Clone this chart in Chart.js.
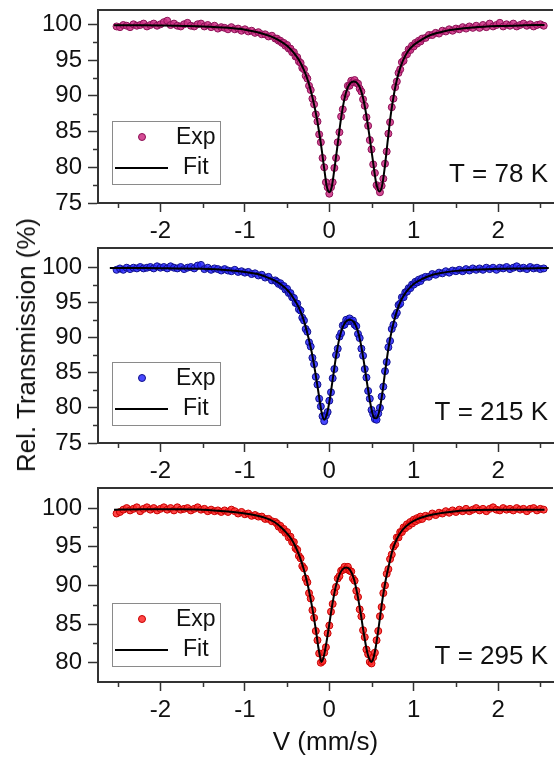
<!DOCTYPE html>
<html><head><meta charset="utf-8">
<script src="https://cdn.jsdelivr.net/npm/chart.js@4.4.1/dist/chart.umd.min.js"></script>
<style>
html,body{margin:0;padding:0;background:#fff;width:558px;height:758px;overflow:hidden}
canvas{position:absolute;left:0}
#ytitle{position:absolute;left:26px;top:345px;transform:translate(-50%,-50%) rotate(-90deg);white-space:nowrap;
  font:26px 'Liberation Sans',Arial,sans-serif;color:#111;line-height:1}
</style></head><body>
<canvas id="c1" width="558" height="240" style="top:0"></canvas>
<canvas id="c2" width="558" height="240" style="top:240px"></canvas>
<canvas id="c3" width="558" height="278" style="top:480px"></canvas>
<div id="ytitle">Rel. Transmission (%)</div>
<script>
// ---- data ----
const velocity = [
-2.52,-2.48,-2.44,-2.40,-2.36,-2.32,-2.28,-2.24,-2.20,-2.16,-2.12,-2.08,-2.04,-2.00,-1.96,-1.92,
-1.88,-1.84,-1.80,-1.76,-1.72,-1.68,-1.64,-1.60,-1.56,-1.52,-1.48,-1.44,-1.40,-1.36,-1.32,-1.28,
-1.24,-1.20,-1.16,-1.12,-1.08,-1.04,-1.00,-0.96,-0.92,-0.88,-0.84,-0.80,-0.76,-0.72,-0.68,-0.64,
-0.62,-0.60,-0.58,-0.56,-0.54,-0.52,-0.50,-0.48,-0.46,-0.44,-0.42,-0.40,-0.38,-0.36,-0.34,-0.32,
-0.30,-0.28,-0.26,-0.24,-0.22,-0.20,-0.18,-0.16,-0.14,-0.12,-0.10,-0.08,-0.06,-0.04,-0.02,
0.00,0.02,0.04,0.06,0.08,0.10,0.12,0.14,0.16,0.18,0.20,0.22,0.24,0.26,0.28,0.30,
0.32,0.34,0.36,0.38,0.40,0.42,0.44,0.46,0.48,0.50,0.52,0.54,0.56,0.58,0.60,0.62,
0.64,0.66,0.68,0.70,0.72,0.74,0.76,0.78,0.80,0.82,0.84,0.86,0.88,0.90,0.92,0.94,
0.96,0.98,1.00,1.02,1.04,1.06,1.08,1.10,
1.14,1.18,1.22,1.26,1.30,1.34,1.38,1.42,1.46,1.50,1.54,1.58,1.62,1.66,1.70,1.74,
1.78,1.82,1.86,1.90,1.94,1.98,2.02,2.06,2.10,2.14,2.18,2.22,2.26,2.30,2.34,2.38,
2.42,2.46,2.50,2.54];

const exp78 = [
99.7,99.6,99.9,99.8,99.6,100.0,99.8,99.9,100.1,99.7,99.9,100.1,99.8,100.0,100.3,100.5,
99.9,100.1,99.8,99.7,100.0,100.2,99.8,99.7,100.0,100.1,99.7,99.9,99.6,99.8,99.4,99.6,
99.5,99.3,99.6,99.3,99.4,99.1,99.3,99.0,99.1,98.8,98.9,98.6,98.6,98.3,98.4,98.0,
98.0,97.7,97.7,97.4,97.4,97.0,97.1,96.6,96.6,96.1,96.1,95.5,95.4,94.8,94.6,93.9,
93.7,92.8,92.4,91.4,90.8,89.6,88.8,87.4,86.4,84.6,83.5,81.3,80.0,77.9,77.2,
76.3,77.2,77.9,79.9,81.3,83.5,84.9,87.1,88.1,89.8,90.3,91.4,91.4,92.1,91.9,92.2,
91.8,91.7,91.0,90.6,89.5,88.6,87.0,85.8,83.8,82.5,80.4,79.2,77.5,77.2,76.5,77.4,
78.4,80.5,82.2,84.7,86.3,88.4,89.6,91.2,92.0,93.2,93.7,94.7,94.9,95.7,95.8,96.5,
96.4,97.0,96.9,97.4,97.3,97.7,97.6,98.0,
98.1,98.5,98.5,98.8,98.7,99.1,99.0,99.3,99.1,99.4,99.3,99.6,99.4,99.7,99.5,99.8,
99.5,99.9,99.6,100.1,99.7,99.9,100.2,99.7,100.0,99.8,100.1,99.7,99.9,100.1,99.8,100.0,
99.7,99.9,100.0,99.8];

const exp215 = [
99.6,99.8,99.6,99.9,99.7,99.9,99.8,100.0,99.8,99.9,100.0,99.8,100.1,99.9,100.0,99.8,
100.1,99.9,99.8,100.0,99.7,99.9,100.0,99.8,100.2,100.3,99.7,99.9,99.6,99.8,99.7,99.5,
99.7,99.5,99.4,99.6,99.3,99.4,99.2,99.3,99.0,99.1,98.8,98.9,98.5,98.6,98.1,98.1,
97.9,97.6,97.7,97.3,97.3,96.8,96.9,96.3,96.3,95.7,95.6,94.9,94.8,94.0,93.8,92.8,
92.4,91.2,90.8,89.3,88.7,87.1,86.2,84.4,83.3,81.3,80.2,78.8,78.1,78.9,79.4,
81.0,82.2,84.2,85.5,87.5,88.4,90.1,90.6,91.7,91.8,92.5,92.3,92.7,92.3,92.4,91.8,
91.6,90.5,89.9,88.4,87.4,85.5,84.3,82.4,81.3,79.7,79.1,78.4,78.3,79.2,80.0,81.6,
83.0,85.2,86.5,88.6,89.5,91.2,91.8,93.1,93.5,94.6,94.8,95.7,95.7,96.4,96.5,97.0,
97.0,97.5,97.5,97.9,97.8,98.2,98.0,98.4,
98.6,98.6,99.0,98.9,99.2,99.1,99.4,99.2,99.5,99.4,99.6,99.4,99.7,99.5,99.8,99.6,
99.8,99.6,99.9,99.7,99.9,99.6,99.9,99.8,100.0,99.7,99.9,100.1,99.8,99.9,99.7,100.0,
99.8,99.9,99.7,99.8];

const exp295 = [
99.3,99.5,99.8,100.0,99.7,99.9,100.1,99.6,99.9,100.1,99.8,100.0,99.7,99.9,100.1,99.8,
100.0,99.7,100.1,99.8,99.9,100.0,99.7,99.9,100.1,99.8,99.9,99.6,99.8,99.6,99.7,99.5,
99.7,99.5,99.8,99.6,99.3,99.5,99.2,99.3,99.0,99.1,98.9,98.9,98.6,98.6,98.3,98.2,
98.0,97.6,97.7,97.2,97.3,96.8,96.9,96.2,96.3,95.6,95.6,94.8,94.6,93.8,93.5,92.5,
92.2,90.9,90.4,89.0,88.3,86.8,85.8,84.1,82.9,81.2,80.0,80.2,81.3,82.0,83.8,
84.8,86.6,87.6,89.1,89.8,90.9,91.2,91.9,92.0,92.4,92.1,92.4,91.9,91.8,90.9,90.6,
89.3,88.5,86.9,86.0,84.2,83.3,81.7,81.1,80.1,79.9,80.7,81.3,82.9,84.1,86.0,87.2,
89.0,90.0,91.5,92.1,93.4,94.0,95.0,95.3,96.2,96.2,96.9,96.9,97.5,97.4,97.9,97.7,
98.2,98.0,98.5,98.3,98.7,98.5,98.9,98.6,
99.0,98.9,99.3,99.1,99.4,99.3,99.6,99.4,99.7,99.5,99.8,99.6,99.9,99.6,99.8,100.0,
99.7,99.9,99.6,99.9,100.1,99.8,99.7,100.0,99.8,99.9,99.7,100.0,99.8,99.9,99.6,99.9,
100.0,99.7,99.9,99.8];

const fitV78 = [-2.55,-2.2,-1.8,-1.5,-1.2,-1.0,-0.85,-0.7,-0.6,-0.5,-0.42,-0.36,-0.3,-0.25,-0.2,-0.15,-0.1,-0.06,-0.03,0.0,
0.03,0.06,0.1,0.14,0.18,0.22,0.26,0.29,0.32,0.36,0.40,0.44,0.48,0.52,0.555,0.595,0.625,0.655,0.69,0.73,
0.77,0.80,0.84,0.875,0.93,1.0,1.1,1.2,1.35,1.5,1.7,2.0,2.3,2.55];
const fit78 = [99.85,99.85,99.8,99.7,99.5,99.25,98.9,98.35,97.8,97.0,96.0,95.0,93.6,92.0,89.8,87.0,83.3,79.8,77.3,76.5,
77.3,79.7,83.3,86.9,89.6,91.2,91.9,92.0,91.9,91.2,89.7,87.2,84.0,80.6,77.8,76.6,77.4,79.8,83.5,87.5,
90.5,92.2,93.9,95.0,96.2,97.1,97.9,98.5,99.0,99.3,99.55,99.75,99.85,99.9];

const fitV215 = [-2.6,-2.2,-1.8,-1.5,-1.2,-1.0,-0.85,-0.75,-0.65,-0.56,-0.48,-0.42,-0.36,-0.31,-0.26,-0.21,-0.16,-0.12,-0.09,-0.06,
-0.03,0.0,0.04,0.08,0.12,0.16,0.20,0.245,0.29,0.33,0.37,0.41,0.45,0.49,0.525,0.555,0.585,0.62,0.66,0.70,
0.74,0.78,0.82,0.86,0.92,1.0,1.1,1.2,1.35,1.5,1.7,2.0,2.3,2.6];
const fit215 = [99.85,99.85,99.8,99.75,99.55,99.3,99.0,98.6,98.1,97.4,96.5,95.5,94.2,92.7,90.6,88.0,84.6,81.5,79.3,78.3,
79.0,80.8,84.0,87.3,89.9,91.5,92.3,92.5,92.2,91.2,89.3,86.5,83.3,80.4,78.7,78.5,79.2,81.4,85.0,88.4,
91.0,92.9,94.4,95.5,96.6,97.6,98.3,98.8,99.2,99.45,99.6,99.75,99.8,99.85];

const fitV295 = [-2.55,-2.2,-1.8,-1.5,-1.2,-1.0,-0.85,-0.75,-0.65,-0.56,-0.5,-0.45,-0.4,-0.35,-0.3,-0.25,-0.2,-0.16,-0.13,-0.11,
-0.094,-0.07,-0.04,0.0,0.04,0.08,0.12,0.16,0.203,0.245,0.29,0.33,0.37,0.41,0.45,0.48,0.50,0.52,0.55,0.59,
0.63,0.67,0.71,0.75,0.80,0.87,0.95,1.05,1.2,1.35,1.5,1.75,2.0,2.3,2.55];
const fit295 = [99.8,99.85,99.85,99.8,99.55,99.3,99.0,98.7,98.2,97.4,96.7,96.0,95.0,93.7,92.0,89.8,87.0,84.3,82.0,80.8,
80.1,80.6,82.2,85.0,87.8,90.0,91.4,92.1,92.3,92.0,90.9,89.0,86.5,83.7,81.3,80.3,80.1,80.5,82.0,85.0,
88.2,90.8,92.8,94.6,96.0,97.2,98.0,98.6,99.1,99.4,99.6,99.75,99.8,99.8,99.8];

const xTicks = [-2, -1, 0, 1, 2];
const xMinorTicks = [-2.5, -1.5, -0.5, 0.5, 1.5, 2.5];
const yTicks78 = [75, 80, 85, 90, 95, 100];
const yTicks215 = [75, 80, 85, 90, 95, 100];
const yTicks295 = [80, 85, 90, 95, 100];
const yMinor78 = [77.5, 82.5, 87.5, 92.5, 97.5];
const yMinor215 = [77.5, 82.5, 87.5, 92.5, 97.5];
const yMinor295 = [82.5, 87.5, 92.5, 97.5];
const tempLabels = ['T = 78 K', 'T = 215 K', 'T = 295 K'];
const seriesNames = ['Exp', 'Fit'];

// ---- drawing ----
const FONT = "'Liberation Sans', Arial, sans-serif";
const AXIS = '#333333';

const panelPlugin = {
  id: 'panelDeco',
  afterDraw(chart, args, o) {
    const {ctx, chartArea: a, scales} = chart;
    ctx.save();
    ctx.strokeStyle = AXIS; ctx.lineWidth = 2;
    ctx.beginPath(); ctx.moveTo(a.left - 1, a.top); ctx.lineTo(a.right, a.top); ctx.stroke();
    ctx.lineWidth = 1.5;
    o.minorX.forEach(v => {
      const p = Math.round(scales.x.getPixelForValue(v)) + 0.5;
      ctx.beginPath(); ctx.moveTo(p, a.bottom); ctx.lineTo(p, a.bottom + 5); ctx.stroke();
    });
    o.minorY.forEach(v => {
      const p = Math.round(scales.y.getPixelForValue(v)) + 0.5;
      ctx.beginPath(); ctx.moveTo(a.left, p); ctx.lineTo(a.left - 5, p); ctx.stroke();
    });
    const bx = a.left + 14, bh = 63, by = a.bottom - o.legendGap - bh, bw = 108;
    ctx.fillStyle = '#fff'; ctx.fillRect(bx, by, bw, bh);
    ctx.strokeStyle = '#8a8a8a'; ctx.lineWidth = 1;
    ctx.strokeRect(bx + 0.5, by + 0.5, bw, bh);
    const dExp = chart.data.datasets[1], dFit = chart.data.datasets[0];
    ctx.beginPath(); ctx.arc(bx + 30, by + 16, 3.5, 0, Math.PI * 2);
    ctx.fillStyle = dExp.backgroundColor; ctx.fill();
    ctx.strokeStyle = dExp.borderColor; ctx.lineWidth = 1; ctx.stroke();
    ctx.strokeStyle = '#000'; ctx.lineWidth = 2;
    ctx.beginPath(); ctx.moveTo(bx + 3, by + 47); ctx.lineTo(bx + 56, by + 47); ctx.stroke();
    ctx.fillStyle = '#111'; ctx.font = '23px ' + FONT; ctx.textBaseline = 'middle'; ctx.textAlign = 'left';
    ctx.fillText(dExp.label, bx + 64, by + 17);
    ctx.fillText(dFit.label, bx + 71, by + 47);
    ctx.font = '26px ' + FONT; ctx.textAlign = 'right';
    ctx.fillText(o.tempLabel, 548, a.bottom - o.tempGap);
    ctx.restore();
  }
};

function makePanel(id, cfg) {
  const expData = velocity.map((v, i) => ({x: v, y: cfg.exp[i]}));
  const fitData = cfg.fitV.map((v, i) => ({x: v, y: cfg.fit[i]}));
  return new Chart(document.getElementById(id), {
    type: 'scatter',
    data: {datasets: [
      {label: seriesNames[1], data: fitData, showLine: true, pointRadius: 0, borderColor: '#000', borderWidth: 2,
       cubicInterpolationMode: 'monotone', order: 0},
      {label: seriesNames[0], data: expData, showLine: false, pointRadius: 3.5, pointBorderWidth: 1,
       backgroundColor: cfg.fill, borderColor: cfg.edge, order: 1}
    ]},
    options: {
      responsive: false, animation: false, devicePixelRatio: 1,
      layout: {padding: {top: cfg.padTop, left: 0, right: 0, bottom: 0}},
      plugins: {legend: {display: false}, tooltip: {enabled: false},
        panelDeco: {minorX: xMinorTicks, minorY: cfg.minorY, legendGap: cfg.legendGap, tempGap: cfg.tempGap, tempLabel: cfg.tempLabel}},
      scales: {
        x: {type: 'linear', min: -2.74, max: 2.65,
          afterBuildTicks: s => { s.ticks = xTicks.map(v => ({value: v})); },
          afterFit: s => { s.height = cfg.xHeight; s.paddingLeft = 0; s.paddingRight = 0; },
          grid: {display: true, drawOnChartArea: false, drawTicks: true, tickLength: 9, tickColor: AXIS, tickWidth: 1.5},
          border: {display: true, color: AXIS, width: 2},
          ticks: {font: {family: FONT, size: 24}, color: '#111', padding: 5, maxRotation: 0,
            callback: v => String(v)},
          title: {display: !!cfg.xTitle, text: cfg.xTitle || '', font: {family: FONT, size: 26}, color: '#111', padding: {top: 0, bottom: 0}}
        },
        y: {type: 'linear', min: cfg.yMin, max: cfg.yMax,
          afterBuildTicks: s => { s.ticks = cfg.yTicks.map(v => ({value: v})); },
          afterFit: s => { s.width = 98; s.paddingTop = 0; s.paddingBottom = 0; },
          grid: {display: true, drawOnChartArea: false, drawTicks: true, tickLength: 10, tickColor: AXIS, tickWidth: 1.5},
          border: {display: true, color: AXIS, width: 2},
          ticks: {font: {family: FONT, size: 24}, color: '#111', padding: 6, callback: v => String(v)}
        }
      }
    },
    plugins: [panelPlugin]
  });
}

makePanel('c1', {exp: exp78, fitV: fitV78, fit: fit78, fill: 'rgba(205,45,130,0.85)', edge: '#8c1055',
  yMin: 75, yMax: 102, yTicks: yTicks78, minorY: yMinor78, padTop: 10, xHeight: 37,
  legendGap: 19, tempGap: 28, tempLabel: tempLabels[0]});
makePanel('c2', {exp: exp215, fitV: fitV215, fit: fit215, fill: 'rgba(40,40,255,0.85)', edge: '#10108a',
  yMin: 75, yMax: 102.7, yTicks: yTicks215, minorY: yMinor215, padTop: 8, xHeight: 37,
  legendGap: 18, tempGap: 30, tempLabel: tempLabels[1]});
makePanel('c3', {exp: exp295, fitV: fitV295, fit: fit295, fill: 'rgba(255,40,40,0.85)', edge: '#c80000',
  yMin: 77.5, yMax: 102.6, yTicks: yTicks295, minorY: yMinor295, padTop: 8, xHeight: 76,
  legendGap: 16, tempGap: 25, tempLabel: tempLabels[2], xTitle: 'V (mm/s)'});
</script>
</body></html>
